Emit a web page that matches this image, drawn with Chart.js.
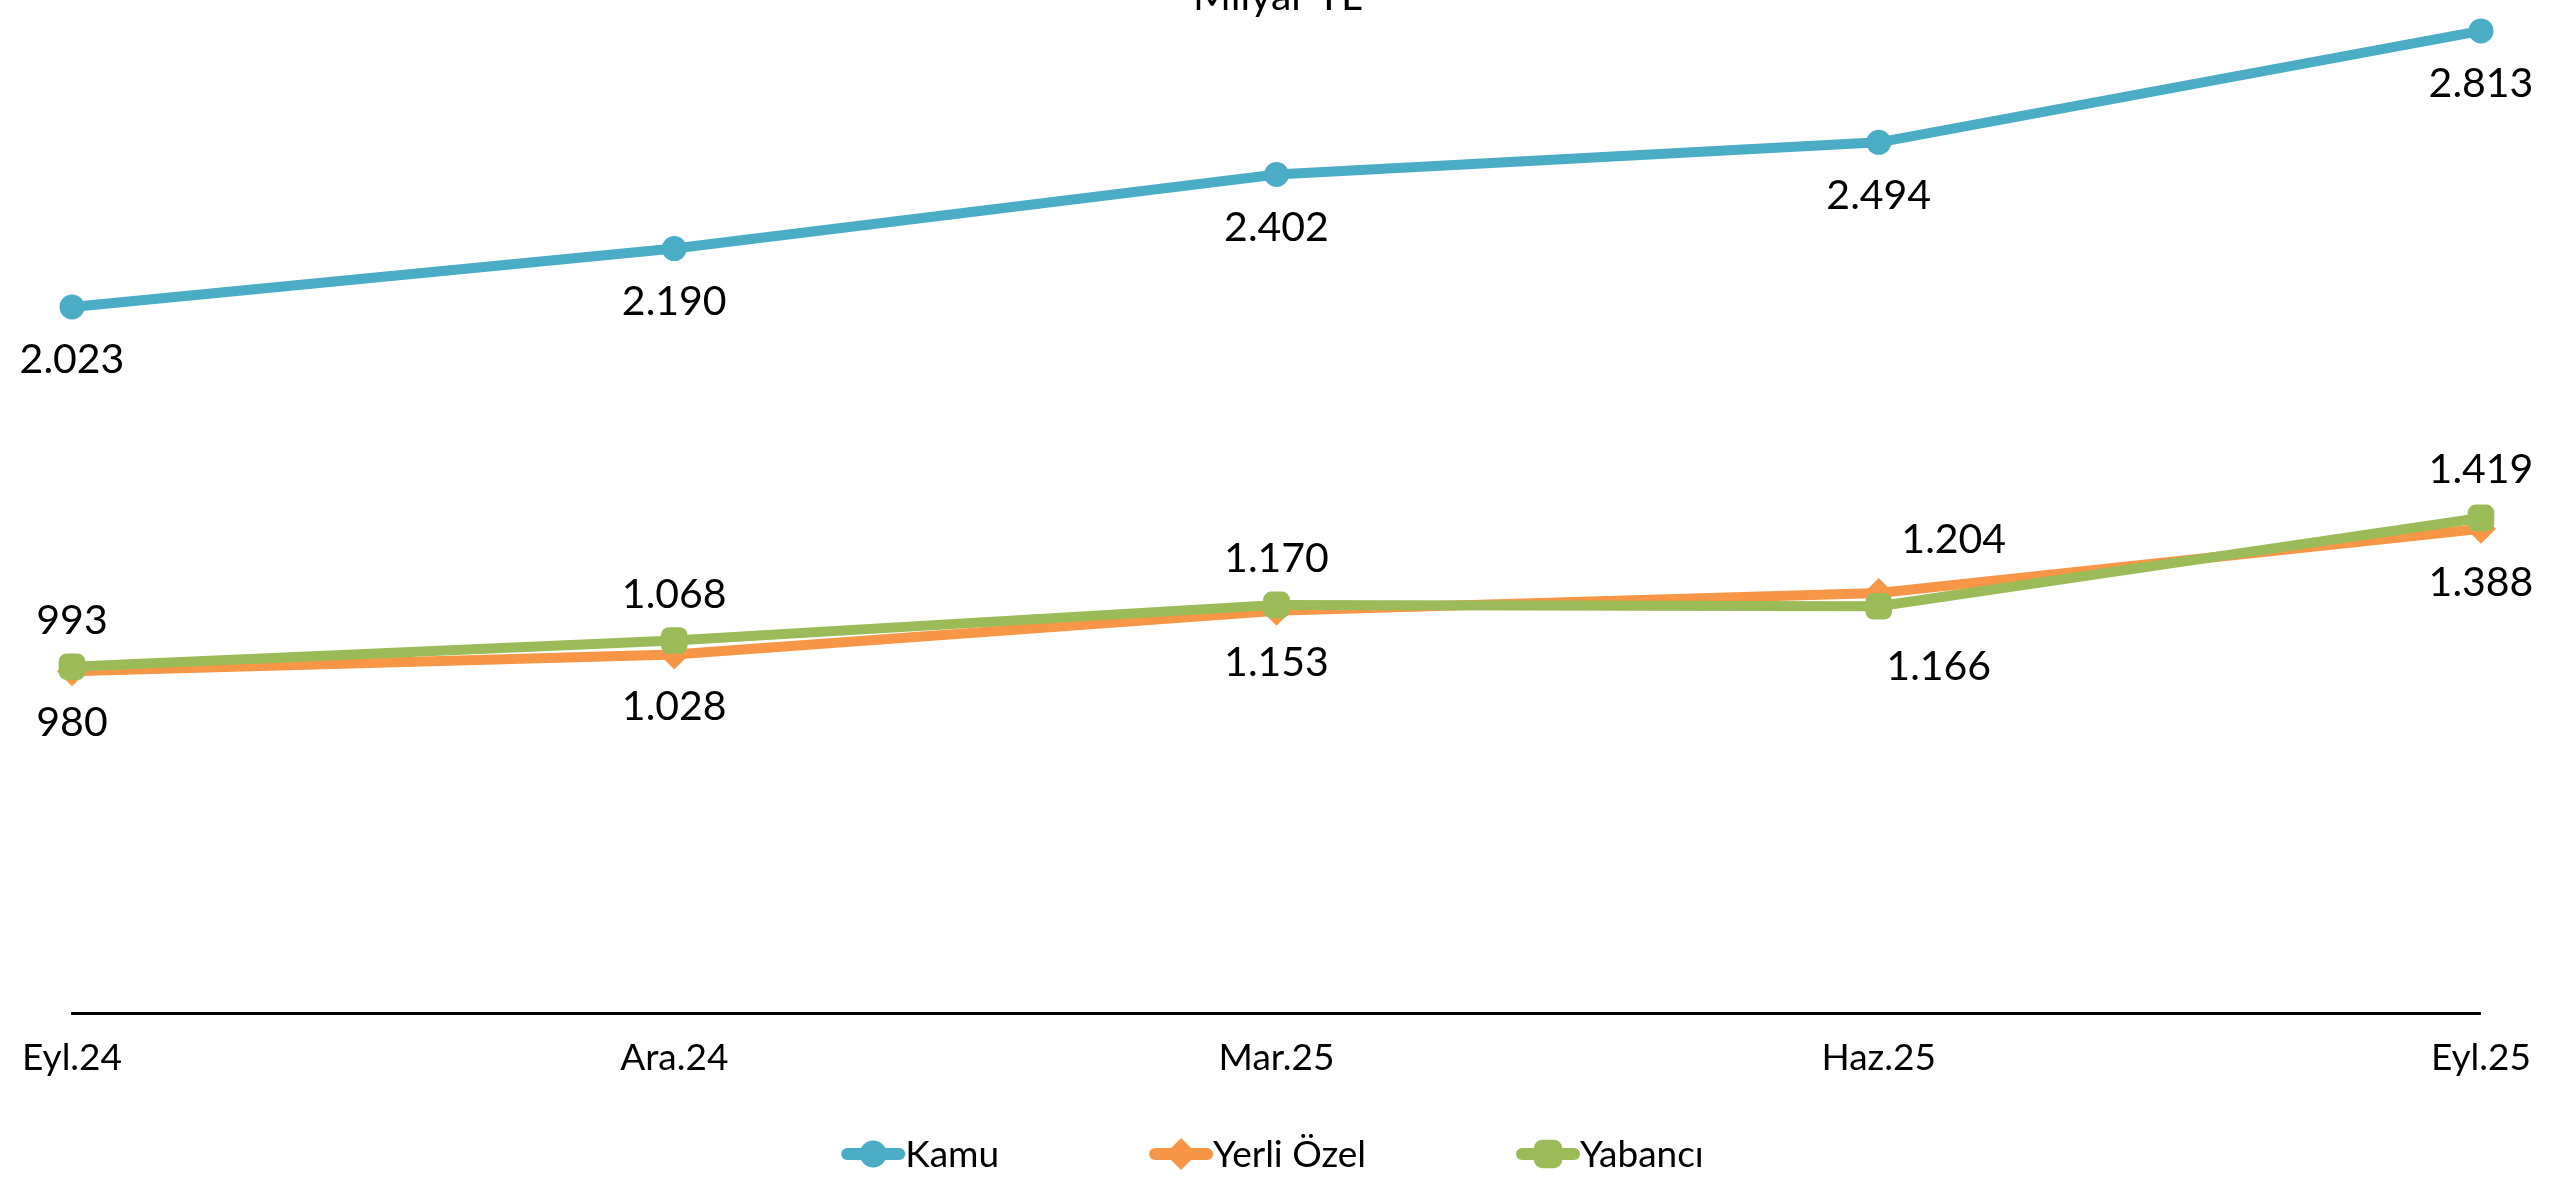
<!DOCTYPE html>
<html lang="tr">
<head>
<meta charset="utf-8">
<title>Milyar TL</title>
<script src="https://cdn.jsdelivr.net/npm/chart.js@4.4.1/dist/chart.umd.min.js"></script>
<style>
  html, body { margin: 0; padding: 0; background: #fff; overflow: hidden; }
  #wrap { position: relative; width: 2553px; height: 1186px; overflow: hidden; }
  /* the title sits partly above the visible area, like the original */
  #grafico { position: absolute; left: 0; top: -60px; }
</style>
</head>
<body>
<div id="wrap">
  <canvas id="grafico" width="2553" height="1246"></canvas>
</div>
<script>
const donemler = ['Eyl.24', 'Ara.24', 'Mar.25', 'Haz.25', 'Eyl.25'];
const kamu = [2023, 2190, 2402, 2494, 2813];
const yerliOzel = [980, 1028, 1153, 1204, 1388];
const yabanci = [993, 1068, 1170, 1166, 1419];

const FONT = 'Lato';

// where each value label goes, relative to its point
const etiketYeri = {
    0: [[0, 53], [0, 53], [0, 53], [0, 53], [0, 53]],
    1: [[0, 52], [0, 52], [0, 52], [75, -53], [0, 54]],
    2: [[0, -46], [0, -46], [0, -46], [60, 61], [0, -48]]
};

function bicimle(v) {
    return String(v).replace(/\B(?=(\d{3})+(?!\d))/g, '.');
}

const degerEtiketleri = {
    id: 'degerEtiketleri',
    afterDatasetsDraw(chart) {
        const ctx = chart.ctx;
        ctx.save();
        ctx.font = '41px ' + FONT;
        ctx.fillStyle = '#000';
        ctx.textAlign = 'center';
        ctx.textBaseline = 'middle';
        chart.data.datasets.forEach((ds, i) => {
            const meta = chart.getDatasetMeta(i);
            meta.data.forEach((pt, j) => {
                const off = etiketYeri[i][j];
                ctx.fillText(bicimle(ds.data[j]), pt.x + off[0], pt.y + off[1]);
            });
        });
        ctx.restore();
    }
};

// excel style legend: short line with the marker on it, text right after
const cizgiLejant = {
    id: 'cizgiLejant',
    afterDraw(chart) {
        const ctx = chart.ctx;
        const sets = chart.data.datasets;
        const isaretW = 64, bosluk = 150;
        ctx.save();
        ctx.font = '37px ' + FONT;
        const genislik = sets.map(d => isaretW + ctx.measureText(d.label).width);
        const toplam = genislik.reduce((a, b) => a + b, 0) + bosluk * (sets.length - 1);
        let x = (chart.width - toplam) / 2 - 4;
        const y = chart.height - 32;
        sets.forEach((d, i) => {
            ctx.strokeStyle = d.borderColor;
            ctx.lineWidth = 12;
            ctx.lineCap = 'round';
            ctx.beginPath();
            ctx.moveTo(x + 6, y);
            ctx.lineTo(x + isaretW - 6, y);
            ctx.stroke();
            ctx.fillStyle = d.borderColor;
            ctx.strokeStyle = d.borderColor;
            ctx.lineWidth = 0;
            Chart.helpers.drawPoint(ctx, {
                pointStyle: d.pointStyle,
                radius: d.pointRadius + 1,
                rotation: 0,
                borderWidth: 0
            }, x + isaretW / 2, y);
            ctx.fillStyle = '#000';
            ctx.textAlign = 'left';
            ctx.textBaseline = 'middle';
            ctx.fillText(d.label, x + isaretW, y + 1);
            x += genislik[i] + bosluk;
        });
        ctx.restore();
    }
};

document.addEventListener('DOMContentLoaded', function () {
    const ctx = document.getElementById('grafico').getContext('2d');
    const seri = (label, data, color, style, r, order) => ({
        label: label,
        data: data,
        borderColor: color,
        backgroundColor: color,
        borderWidth: 10,
        pointStyle: style,
        pointRadius: r,
        pointHoverRadius: r,
        pointBorderWidth: 0,
        tension: 0,
        clip: false,
        order: order
    });
    new Chart(ctx, {
        type: 'line',
        data: {
            labels: donemler,
            datasets: [
                seri('Kamu', kamu, '#4BACC6', 'circle', 12.5, 0),
                seri('Yerli Özel', yerliOzel, '#F79646', 'rectRot', 15, 2),
                seri('Yabancı', yabanci, '#9BBB59', 'rectRounded', 15.5, 1)
            ]
        },
        options: {
            responsive: false,
            animation: false,
            events: [],
            layout: { padding: { left: 70, right: 68, top: 0, bottom: 84 } },
            plugins: {
                legend: { display: false },
                tooltip: { enabled: false },
                title: {
                    display: true,
                    text: 'Milyar TL',
                    color: '#000',
                    font: { family: FONT, size: 41, weight: 'normal', lineHeight: 1 },
                    padding: { top: 36, bottom: 1 }
                }
            },
            scales: {
                x: {
                    offset: false,
                    grid: { display: false, drawTicks: false },
                    border: { display: true, color: '#000', width: 3 },
                    ticks: {
                        color: '#000',
                        padding: 22,
                        maxRotation: 0,
                        autoSkip: false,
                        font: { family: FONT, size: 37 }
                    }
                },
                y: {
                    display: false,
                    min: 0,
                    max: 2850
                }
            }
        },
        plugins: [degerEtiketleri, cizgiLejant]
    });
});
</script>
</body>
</html>
